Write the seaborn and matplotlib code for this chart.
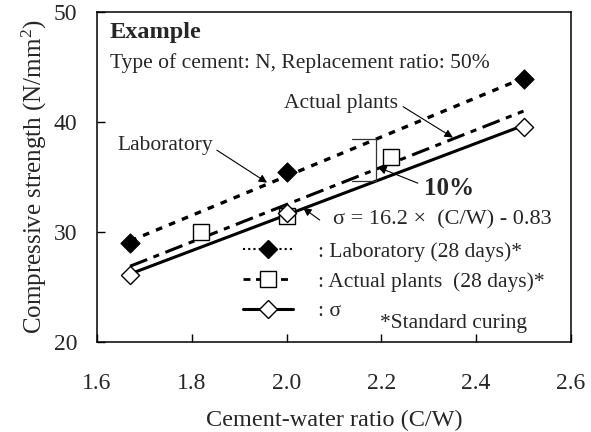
import numpy as np
import pandas as pd
import matplotlib
matplotlib.use("Agg")
import matplotlib.pyplot as plt
from matplotlib.lines import Line2D
import seaborn as sns

# Datos
lab_cw = [1.67, 2.00, 2.50]
lab_fc = [29.0, 35.5, 43.9]
plant_cw = [1.82, 2.00, 2.22]
plant_fc = [30.0, 31.5, 36.8]
sigma_cw = [1.67, 2.00, 2.50]
sigma_fc = [26.1, 31.7, 39.6]

# Rectas de regresion (extremos leidos)
fit_cw = [1.67, 2.50]
lab_fit = [29.2, 44.0]
plant_fit = [26.9, 41.0]
sigma_fit = [26.2, 39.7]

bracket_top = 38.5  # 10 % por debajo -> parte baja del corchete

xticks = [1.6, 1.8, 2.0, 2.2, 2.4, 2.6]
yticks = [20, 30, 40, 50]

sns.set_style("ticks")
plt.rcParams["font.family"] = ["Liberation Serif", "DejaVu Serif"]
plt.rcParams["mathtext.fontset"] = "custom"
plt.rcParams["mathtext.rm"] = "Liberation Serif"
plt.rcParams["mathtext.it"] = "Liberation Serif:italic"
plt.rcParams["xtick.direction"] = "in"
plt.rcParams["ytick.direction"] = "in"

fig = plt.figure(figsize=(5.91, 4.32), dpi=100)
ax = fig.add_axes([0.164, 0.208, 0.802, 0.764])

lab_ls = (0, (2.0, 2.2))
plant_ls = (0, (6.0, 2.2, 2.0, 2.2))

df_fit = pd.DataFrame({"cw": fit_cw, "lab": lab_fit, "plant": plant_fit, "sigma": sigma_fit})
sns.lineplot(data=df_fit, x="cw", y="lab", ax=ax, color="black", lw=2.4, linestyle=lab_ls, legend=False)
sns.lineplot(data=df_fit, x="cw", y="plant", ax=ax, color="black", lw=2.2, linestyle=plant_ls, legend=False)
sns.lineplot(data=df_fit, x="cw", y="sigma", ax=ax, color="black", lw=2.2, legend=False)

sns.scatterplot(x=lab_cw, y=lab_fc, ax=ax, marker="D", s=95, color="black", edgecolor="black", zorder=5)
sns.scatterplot(x=plant_cw, y=plant_fc, ax=ax, marker="s", s=130, facecolor="white", edgecolor="black",
                linewidth=1.0, zorder=5)
sns.scatterplot(x=sigma_cw, y=sigma_fc, ax=ax, marker="D", s=85, facecolor="white", edgecolor="black",
                linewidth=1.0, zorder=6)

ax.set_xlim(1.6, 2.6)
ax.set_ylim(20, 50)
ax.set_xticks(xticks)
ax.set_xticklabels([f"{t:.1f}" for t in xticks])
ax.set_yticks(yticks)
ax.tick_params(labelsize=17, length=6, width=1.0, color="black")
ax.tick_params(axis="x", pad=22)
ax.tick_params(axis="y", pad=14)
for s in ax.spines.values():
    s.set_visible(True)
    s.set_linewidth(1.1)
    s.set_color("black")

ax.set_xlabel("Cement-water ratio (C/W)", fontsize=17.5)
ax.set_ylabel("Compressive strength (N/mm$^{2}$)", fontsize=18)
ax.xaxis.set_label_coords(0.5, -0.205)
ax.yaxis.set_label_coords(-0.102, 0.5)

ax.text(1.627, 48.1, "Example", fontsize=17.5, fontweight="bold", va="center")
ax.text(1.627, 45.4, "Type of cement: N, Replacement ratio: 50%", fontsize=15.5, va="center")

arrow = dict(arrowstyle="-|>", color="black", lw=0.8, mutation_scale=12, shrinkA=0, shrinkB=0)
ax.text(1.643, 37.9, "Laboratory", fontsize=15.5, va="center")
ax.annotate("", xy=(1.959, 34.5), xytext=(1.853, 37.45), arrowprops=arrow)
ax.text(1.995, 41.7, "Actual plants", fontsize=15.5, va="center")
ax.annotate("", xy=(2.351, 38.6), xytext=(2.246, 41.4), arrowprops=arrow)

# corchete del 10 %
bracket_bot = bracket_top * 0.9
ax.plot([2.138, 2.189, 2.189, 2.138], [bracket_top, bracket_top, bracket_bot, bracket_bot],
        color="#333333", lw=0.9, zorder=3)
ax.annotate("", xy=(2.193, 35.9), xytext=(2.277, 34.45), arrowprops=arrow)
ax.text(2.29, 34.0, "10%", fontsize=18, fontweight="bold", va="center")

ax.annotate("", xy=(2.035, 32.2), xytext=(2.070, 31.1), arrowprops=arrow)
ax.text(2.098, 31.1, "σ = 16.2 ×  (C/W) - 0.83", fontsize=16, va="center")

handles = [
    Line2D([], [], color="black", lw=1.5, linestyle=(0, (1, 1.5)), marker="D", markersize=9,
           markerfacecolor="black", markeredgecolor="black"),
    Line2D([], [], color="black", lw=2.0, linestyle=(0, (2.5, 2)), marker="s", markersize=11,
           markerfacecolor="white", markeredgecolor="black"),
    Line2D([], [], color="black", lw=2.2, linestyle="-", marker="D", markersize=9,
           markerfacecolor="white", markeredgecolor="black"),
]
labels = [": Laboratory (28 days)*", ": Actual plants  (28 days)*", ": σ"]
ax.legend(handles, labels, loc="upper left", bbox_to_anchor=(0.308, 0.304), frameon=False,
          fontsize=15.5, handlelength=2.32, handletextpad=1.16, labelspacing=0.45,
          borderpad=0, borderaxespad=0)
ax.text(2.197, 21.7, "*Standard curing", fontsize=15.5, va="center")

fig.savefig("out.png", dpi=100)
